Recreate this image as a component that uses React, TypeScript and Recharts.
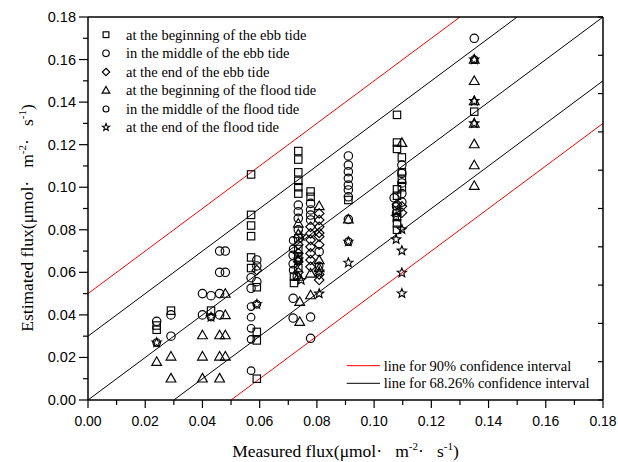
import React from 'react';
import { ComposedChart, Scatter, XAxis, YAxis, ReferenceLine, Legend } from 'recharts';

// ---------- data ----------
const seriesNames = [
  'at the beginning of the ebb tide',
  'in the middle of the ebb tide',
  'at the end of the ebb tide',
  'at the beginning of the flood tide',
  'in the middle of the flood tide',
  'at the end of the flood tide',
];
const seriesKinds = ['square', 'circle', 'diamond', 'triangle', 'circleSmall', 'star'];

const beginEbb: number[][] = [
  [0.024, 0.035], [0.024, 0.033], [0.029, 0.042], [0.043, 0.042],
  [0.057, 0.106], [0.057, 0.087], [0.057, 0.082], [0.057, 0.077], [0.057, 0.067], [0.057, 0.062],
  [0.059, 0.053], [0.059, 0.032], [0.059, 0.028], [0.059, 0.010],
  [0.0735, 0.117], [0.0735, 0.113], [0.0735, 0.107], [0.0735, 0.103], [0.0735, 0.1], [0.0735, 0.097],
  [0.0735, 0.076], [0.0735, 0.071], [0.0735, 0.067], [0.0735, 0.062], [0.072, 0.058], [0.072, 0.055],
  [0.0778, 0.098], [0.0778, 0.0955], [0.091, 0.094],
  [0.108, 0.134], [0.108, 0.121], [0.108, 0.118], [0.1097, 0.114], [0.1097, 0.107], [0.1097, 0.104],
  [0.1097, 0.1], [0.108, 0.099], [0.108, 0.096], [0.108, 0.089], [0.108, 0.086], [0.108, 0.083], [0.108, 0.08],
  [0.135, 0.1355],
];
const middleEbb: number[][] = [
  [0.024, 0.037], [0.029, 0.04], [0.029, 0.03], [0.04, 0.05], [0.043, 0.049], [0.046, 0.05],
  [0.04, 0.04], [0.046, 0.04], [0.046, 0.07], [0.048, 0.07], [0.046, 0.06], [0.048, 0.06],
  [0.057, 0.0575], [0.057, 0.0525], [0.059, 0.0658], [0.059, 0.063], [0.059, 0.0556],
  [0.0735, 0.0916], [0.0735, 0.0885], [0.0735, 0.0854], [0.0735, 0.08], [0.0717, 0.068], [0.0717, 0.064],
  [0.0717, 0.0478], [0.0717, 0.0385], [0.0778, 0.0924], [0.0778, 0.0893], [0.0778, 0.0869], [0.0778, 0.0846],
  [0.0778, 0.039], [0.0778, 0.029], [0.0808, 0.0697],
  [0.091, 0.1147], [0.091, 0.1104], [0.091, 0.1073], [0.091, 0.1042], [0.091, 0.101], [0.091, 0.0987],
  [0.091, 0.0955], [0.091, 0.0849],
  [0.1097, 0.1104], [0.1097, 0.1065], [0.1097, 0.102], [0.1097, 0.097], [0.1097, 0.093], [0.107, 0.095],
  [0.135, 0.17],
];
const endEbb: number[][] = [
  [0.059, 0.061], [0.0778, 0.0814], [0.0778, 0.0783], [0.0778, 0.0752], [0.0778, 0.072], [0.0778, 0.0689],
  [0.0778, 0.0658], [0.0778, 0.0626], [0.0808, 0.0877], [0.0808, 0.0846], [0.0808, 0.0814], [0.0808, 0.0785],
  [0.0808, 0.0768], [0.0808, 0.073], [0.0808, 0.0564], [0.0808, 0.059], [0.0735, 0.073], [0.0735, 0.069],
  [0.0735, 0.065], [0.0735, 0.06], [0.1097, 0.091], [0.1097, 0.088], [0.108, 0.092],
];
const beginFlood: number[][] = [
  [0.024, 0.018], [0.029, 0.0205], [0.029, 0.0102], [0.04, 0.0305], [0.04, 0.0205], [0.04, 0.0102],
  [0.046, 0.0305], [0.046, 0.0205], [0.046, 0.0102], [0.048, 0.05], [0.048, 0.04], [0.048, 0.0305],
  [0.048, 0.0205], [0.0735, 0.083], [0.0735, 0.078], [0.0735, 0.058], [0.074, 0.0462], [0.074, 0.0368],
  [0.0778, 0.0595], [0.0778, 0.0493], [0.0808, 0.0912], [0.0808, 0.0658], [0.0808, 0.062],
  [0.091, 0.0849], [0.1097, 0.1209],
  [0.135, 0.16], [0.135, 0.15], [0.135, 0.1405], [0.135, 0.13], [0.135, 0.1203], [0.135, 0.1104], [0.135, 0.1007],
];
const middleFlood: number[][] = [
  [0.024, 0.027], [0.043, 0.039], [0.057, 0.0439], [0.057, 0.0389], [0.057, 0.0337], [0.057, 0.0285],
  [0.057, 0.0138], [0.059, 0.045], [0.0717, 0.075], [0.0717, 0.071], [0.0717, 0.061], [0.073, 0.058],
  [0.0735, 0.066], [0.0808, 0.063], [0.091, 0.0744], [0.1077, 0.088], [0.1077, 0.091], [0.135, 0.16],
];
const endFlood: number[][] = [
  [0.024, 0.027], [0.043, 0.039], [0.059, 0.045], [0.0745, 0.077], [0.0735, 0.066], [0.0745, 0.0564],
  [0.0808, 0.0603], [0.0808, 0.05], [0.091, 0.0744], [0.091, 0.0645], [0.1077, 0.0861], [0.1077, 0.0755],
  [0.1097, 0.0802], [0.1097, 0.0702], [0.1097, 0.0598], [0.1097, 0.0501],
  [0.135, 0.16], [0.135, 0.1405], [0.135, 0.13],
];
const seriesData = [beginEbb, middleEbb, endEbb, beginFlood, middleFlood, endFlood];

const redOffsets = [0.05, -0.05];
const blackOffsets = [0.03, 0, -0.03];
const lineNames = ['line for 90% confidence interval', 'line for 68.26% confidence interval'];

const axisMin = 0;
const axisMax = 0.18;
const majorTicks = [0, 0.02, 0.04, 0.06, 0.08, 0.1, 0.12, 0.14, 0.16, 0.18];
const majorLabels = ['0.00', '0.02', '0.04', '0.06', '0.08', '0.10', '0.12', '0.14', '0.16', '0.18'];
const minorTicks = [0.01, 0.03, 0.05, 0.07, 0.09, 0.11, 0.13, 0.15, 0.17];
const frameTicks = [0, 0.018, 0.036, 0.054, 0.072, 0.09, 0.108, 0.126, 0.144, 0.162, 0.18];

// ---------- helpers ----------
const allTicks = [...majorTicks, ...minorTicks].sort((a, b) => a - b);
const majorIndex = (v: number) => majorTicks.findIndex((t) => Math.abs(t - v) < 1e-9);
const toPoints = (arr: number[][]) => arr.map(([x, y]) => ({ x, y }));
const segment = (c: number) => {
  const x1 = Math.max(axisMin, axisMin - c);
  const x2 = Math.min(axisMax, axisMax - c);
  return [{ x: x1, y: x1 + c }, { x: x2, y: x2 + c }];
};

const SERIF = "'Liberation Serif','Times New Roman',Times,serif";
const SANS = "'Liberation Sans',Arial,Helvetica,sans-serif";

function Marker({ kind, cx, cy, k = 1 }: { kind: string; cx: number; cy: number; k?: number }) {
  const common = { fill: 'none', stroke: '#000', strokeWidth: 1.15 };
  if (cx == null || cy == null) return null;
  switch (kind) {
    case 'square': {
      const s = 3.7 * k;
      return <rect x={cx - s} y={cy - s} width={2 * s} height={2 * s} {...common} />;
    }
    case 'circle':
      return <circle cx={cx} cy={cy} r={4.2 * k} {...common} />;
    case 'circleSmall':
      return <circle cx={cx} cy={cy} r={3.8 * k} {...common} />;
    case 'diamond': {
      const s = 4.8 * k;
      return <polygon points={`${cx},${cy - s} ${cx + s},${cy} ${cx},${cy + s} ${cx - s},${cy}`} {...common} />;
    }
    case 'triangle': {
      const h = 4.9 * k;
      return (
        <polygon
          points={`${cx},${cy - h} ${cx + h},${cy + h * 0.75} ${cx - h},${cy + h * 0.75}`}
          {...common}
        />
      );
    }
    case 'star': {
      const ro = 4.8 * k;
      const ri = 2.1 * k;
      const pts: string[] = [];
      for (let i = 0; i < 10; i++) {
        const r = i % 2 === 0 ? ro : ri;
        const a = -Math.PI / 2 + (i * Math.PI) / 5;
        pts.push(`${cx + r * Math.cos(a)},${cy + r * Math.sin(a)}`);
      }
      return <polygon points={pts.join(' ')} {...common} />;
    }
    default:
      return null;
  }
}

const BottomTick = (p: any) => {
  const { x, y, payload } = p;
  const idx = majorIndex(payload.value);
  const major = idx >= 0;
  return (
    <g>
      <line x1={x} x2={x} y1={y} y2={y + (major ? 8 : 5)} stroke="#000" strokeWidth={1.2} />
      {major && (
        <text x={x} y={y + 26} textAnchor="middle" fontFamily={SANS} fontSize={14} fill="#000">
          {majorLabels[idx]}
        </text>
      )}
    </g>
  );
};

const LeftTick = (p: any) => {
  const { x, y, payload } = p;
  const idx = majorIndex(payload.value);
  const major = idx >= 0;
  return (
    <g>
      <line x1={x} x2={x - (major ? 9 : 5)} y1={y} y2={y} stroke="#000" strokeWidth={1.2} />
      {major && (
        <text x={x - 12} y={y + 5} textAnchor="end" fontFamily={SANS} fontSize={14.5} fill="#000">
          {majorLabels[idx]}
        </text>
      )}
    </g>
  );
};

const UNIT_SEP = '\u00b7\u00a0\u00a0\u00a0';

const XTitle = () => (
  <text x={345.5} y={457} textAnchor="middle" fontFamily={SERIF} fontSize={17.5} fill="#000">
    {'Measured flux(\u03bcmol' + UNIT_SEP + 'm'}
    <tspan dy={-7} fontSize={11}>-2</tspan>
    <tspan dy={7}>{UNIT_SEP + 's'}</tspan>
    <tspan dy={-7} fontSize={11}>-1</tspan>
    <tspan dy={7}>)</tspan>
  </text>
);

const YTitle = () => (
  <text
    x={33}
    y={218}
    transform="rotate(-90 33 218)"
    textAnchor="middle"
    fontFamily={SERIF}
    fontSize={17.5}
    fill="#000"
  >
    {'Estimated flux(\u03bcmol' + UNIT_SEP + 'm'}
    <tspan dy={-7} fontSize={11}>-2</tspan>
    <tspan dy={7}>{UNIT_SEP + 's'}</tspan>
    <tspan dy={-7} fontSize={11}>-1</tspan>
    <tspan dy={7}>)</tspan>
  </text>
);

const W = 618;
const H = 462;

const LegendContent = () => {
  const rowY = [34.7, 53.3, 72, 90.3, 109, 127.3];
  return (
    <svg width={W} height={H} style={{ position: 'absolute', left: 0, top: 0, pointerEvents: 'none' }}>
      {seriesNames.map((name, i) => (
        <g key={name}>
          <Marker kind={seriesKinds[i]} cx={106} cy={rowY[i]} k={0.78} />
          <text x={126} y={rowY[i] + 4.8} fontFamily={SERIF} fontSize={14.5} fill="#000">
            {name}
          </text>
        </g>
      ))}
      {lineNames.map((name, i) => {
        const y = 365.7 + i * 17.6;
        return (
          <g key={name}>
            <line x1={346.7} x2={380} y1={y} y2={y} stroke={i === 0 ? '#ff0000' : '#000'} strokeWidth={1} />
            <text x={383.7} y={y + 4.8} fontFamily={SERIF} fontSize={14.5} fill="#000">
              {name}
            </text>
          </g>
        );
      })}
    </svg>
  );
};

export default function App() {
  return (
    <div style={{ position: 'absolute', left: 0, top: 0, width: W, height: H }}>
      <ComposedChart width={W} height={H} margin={{ top: 17, right: 15, bottom: 0, left: 0 }}>
        <XAxis
          dataKey="x"
          type="number"
          domain={[axisMin, axisMax]}
          ticks={allTicks}
          interval={0}
          tickLine={false}
          tickSize={0}
          tickMargin={0}
          tick={<BottomTick />}
          axisLine={{ stroke: '#000', strokeWidth: 1.5 }}
          height={62}
          allowDataOverflow
          label={{ content: () => <XTitle /> }}
        />
        <YAxis
          dataKey="y"
          type="number"
          domain={[axisMin, axisMax]}
          ticks={allTicks}
          interval={0}
          tickLine={false}
          tickSize={0}
          tickMargin={0}
          tick={<LeftTick />}
          axisLine={{ stroke: '#000', strokeWidth: 1.5 }}
          width={88}
          allowDataOverflow
          label={{ content: () => <YTitle /> }}
        />
        <XAxis
          xAxisId="top"
          orientation="top"
          mirror
          type="number"
          domain={[axisMin, axisMax]}
          ticks={frameTicks}
          interval={0}
          tickSize={5}
          tickFormatter={() => ''}
          tickLine={{ stroke: '#000', strokeWidth: 1.2 }}
          axisLine={{ stroke: '#000', strokeWidth: 1.5 }}
          allowDataOverflow
        />
        <YAxis
          yAxisId="right"
          orientation="right"
          mirror
          type="number"
          domain={[axisMin, axisMax]}
          ticks={frameTicks}
          interval={0}
          tickSize={5}
          tickFormatter={() => ''}
          tickLine={{ stroke: '#000', strokeWidth: 1.2 }}
          axisLine={{ stroke: '#000', strokeWidth: 1.5 }}
          allowDataOverflow
        />
        {redOffsets.map((c) => (
          <ReferenceLine key={'r' + c} segment={segment(c)} stroke="#ff0000" strokeWidth={1} ifOverflow="visible" />
        ))}
        {blackOffsets.map((c) => (
          <ReferenceLine key={'b' + c} segment={segment(c)} stroke="#000" strokeWidth={1} ifOverflow="visible" />
        ))}
        {seriesData.map((d, i) => (
          <Scatter
            key={seriesNames[i]}
            name={seriesNames[i]}
            data={toPoints(d)}
            isAnimationActive={false}
            shape={(p: any) => <Marker kind={seriesKinds[i]} cx={p.cx} cy={p.cy} />}
          />
        ))}
        <Legend
          layout="vertical"
          align="center"
          verticalAlign="middle"
          wrapperStyle={{ left: 0, top: 0, width: W, height: H, pointerEvents: 'none' }}
          content={() => <LegendContent />}
        />
      </ComposedChart>
    </div>
  );
}
